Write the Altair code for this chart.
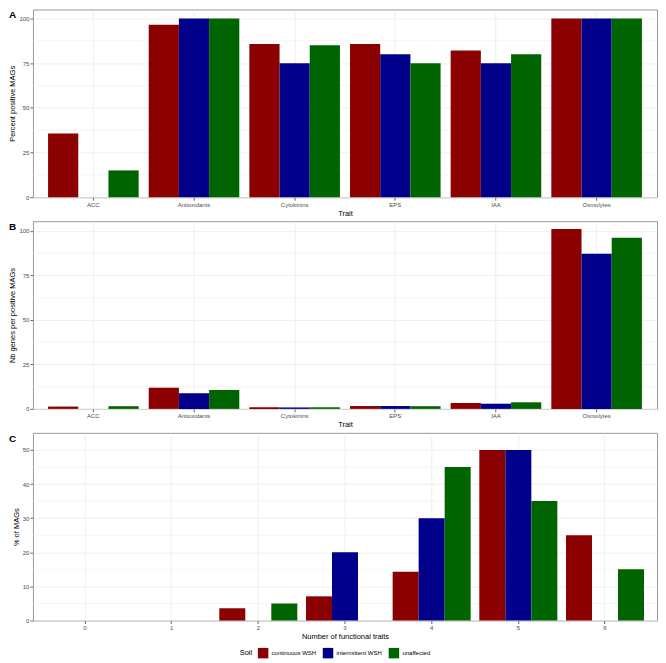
import altair as alt
import pandas as pd

soils = ["continuous WSH", "intermittent WSH", "unaffected"]
soil_colors = ["#8B0000", "#00008B", "#006400"]

traits = ["ACC", "Antioxidants", "Cytokinins", "EPS", "IAA", "Osmolytes"]

pct_continuous = [35.7, 96.4, 85.7, 85.7, 82.1, 100]
pct_intermittent = [0, 100, 75, 80, 75, 100]
pct_unaffected = [15, 100, 85, 75, 80, 100]

genes_continuous = [1.3, 11.9, 0.9, 1.6, 3.3, 101.1]
genes_intermittent = [0, 8.8, 0.8, 1.6, 2.9, 87.2]
genes_unaffected = [1.5, 10.6, 0.9, 1.5, 3.7, 96.2]

n_traits = ["0", "1", "2", "3", "4", "5", "6"]
mags_continuous = [0, 0, 3.6, 7.1, 14.3, 50, 25]
mags_intermittent = [0, 0, 0, 20, 30, 50, 0]
mags_unaffected = [0, 0, 5, 0, 45, 35, 15]

ticks_ab = [0, 25, 50, 75, 100]
minor_ab = [12.5, 37.5, 62.5, 87.5]
ticks_c = [0, 10, 20, 30, 40, 50]
minor_c = [5, 15, 25, 35, 45]

W = 625
H = 188
FONT = "Liberation Sans"


def long_df(cats, series):
    rows = []
    for soil, vals in zip(soils, series):
        for c, v in zip(cats, vals):
            if v > 0:
                rows.append({"cat": c, "soil": soil, "value": v})
    return pd.DataFrame(rows)


def panel(df, cats, xtitle, ytitle, ymax, yticks, minor, tag, legend=None):
    yenc = alt.Y(
        "value:Q",
        scale=alt.Scale(domain=[0, ymax], nice=False, zero=True),
        axis=alt.Axis(title=ytitle, values=yticks),
    )
    bars = alt.Chart(df).mark_bar().encode(
        x=alt.X(
            "cat:N",
            sort=cats,
            scale=alt.Scale(domain=cats, paddingInner=0.1, paddingOuter=0.15),
            axis=alt.Axis(title=xtitle, labelAngle=0, grid=True, bandPosition=0.5),
        ),
        xOffset=alt.XOffset(
            "soil:N",
            scale=alt.Scale(domain=soils, paddingInner=0, paddingOuter=0),
        ),
        y=yenc,
        color=alt.Color(
            "soil:N",
            scale=alt.Scale(domain=soils, range=soil_colors),
            legend=legend,
        ),
    )
    minor_rules = (
        alt.Chart(pd.DataFrame({"value": minor}))
        .mark_rule(color="#EBEBEB", strokeWidth=0.5)
        .encode(y=yenc)
    )
    tag_text = (
        alt.Chart(pd.DataFrame({"t": [tag]}))
        .mark_text(
            font=FONT, fontSize=10, fontWeight="bold", align="left",
            baseline="top", color="black",
        )
        .encode(text="t:N", x=alt.value(-24), y=alt.value(1))
    )
    return alt.layer(minor_rules, bars, tag_text).properties(width=W, height=H)


dfA = long_df(traits, [pct_continuous, pct_intermittent, pct_unaffected])
dfB = long_df(traits, [genes_continuous, genes_intermittent, genes_unaffected])
dfC = long_df(n_traits, [mags_continuous, mags_intermittent, mags_unaffected])

legend_c = alt.Legend(
    title="Soil",
    orient="none",
    legendX=207,
    legendY=215,
    direction="horizontal",
    titleOrient="left",
    symbolType="square",
    symbolSize=110,
    symbolStrokeWidth=0,
    labelFontSize=6,
    titleFontSize=7.5,
    titleFontWeight="normal",
    labelFont=FONT,
    titleFont=FONT,
    labelColor="black",
    titleColor="black",
    columnPadding=6,
    labelOffset=3,
    titlePadding=5,
)

pA = panel(dfA, traits, "Trait", "Percent positive MAGs", 105, ticks_ab, minor_ab, "A")
pB = panel(dfB, traits, "Trait", "Nb genes per positive MAGs", 105.5, ticks_ab, minor_ab, "B")
pC = panel(dfC, n_traits, "Number of functional traits", "% of MAGs", 55, ticks_c, minor_c, "C", legend=legend_c)

chart = (
    alt.vconcat(pA, pB, pC, spacing=3)
    .resolve_scale(color="independent", xOffset="independent", x="independent", y="independent")
    .properties(padding=0, background="white")
    .configure_view(stroke="#999999", strokeWidth=1)
    .configure_axis(
        domain=False,
        tickColor="#666666",
        tickSize=3,
        labelColor="#4D4D4D",
        labelFontSize=6,
        labelFont=FONT,
        titleFont=FONT,
        titleFontSize=7.5,
        titleFontWeight="normal",
        titleColor="black",
        gridColor="#EBEBEB",
        gridWidth=0.8,
        labelPadding=1,
        titlePadding=2,
    )
)

chart.save("out.html", embed_options={"renderer": "svg", "actions": False})
